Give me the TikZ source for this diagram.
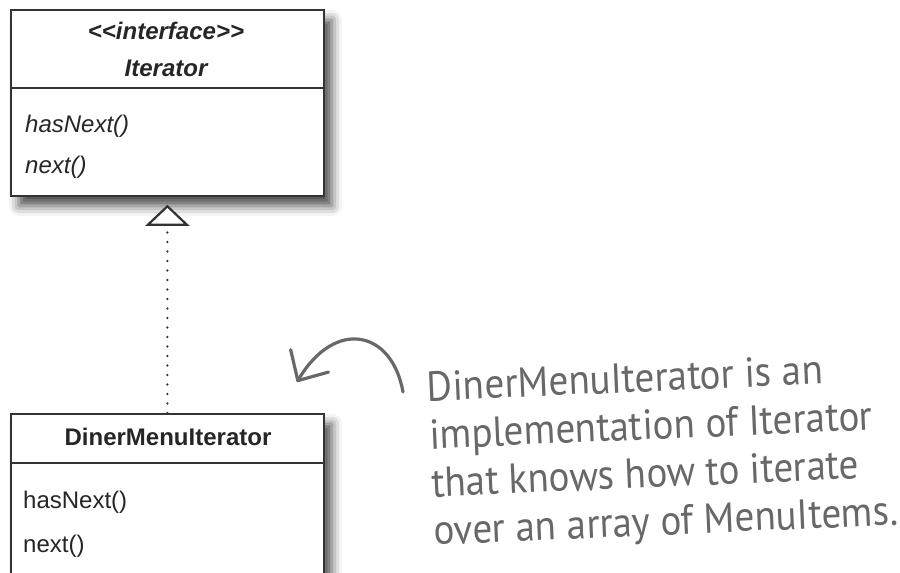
\documentclass[tikz,border=0pt]{standalone}
\usepackage{fontspec}
\setmainfont{Liberation Sans}
\newfontfamily\handfont[FakeStretch=0.93]{PT Sans}
\usetikzlibrary{arrows.meta,shadows.blur}
\definecolor{umlline}{HTML}{333333}
\definecolor{umltext}{HTML}{262626}
\definecolor{penink}{HTML}{686868}
\begin{document}
\begin{tikzpicture}[x=1pt,y=-1pt,
  classbox/.style={draw=umlline, line width=1.8pt, fill=white, inner sep=0pt,
    minimum width=313pt, anchor=north west,
    blur shadow={shadow xshift=8pt, shadow yshift=-10pt,
      shadow blur radius=10pt, shadow opacity=70}},
  divider/.style={draw=umlline, line width=1.5pt},
  umlfont/.style={inner sep=0pt, text=umltext, font=\fontsize{24}{28}\selectfont},
  title/.style={umlfont, anchor=base, font=\fontsize{24}{28}\selectfont\bfseries},
  member/.style={umlfont, anchor=base west},
  realize/.style={draw=umlline, line width=2.6pt, line cap=round,
    dash pattern=on 0pt off 9.5pt, shorten >=8pt,
    -{Triangle[fill=white, length=21pt, width=44pt, line width=2.2pt,
      line cap=butt, line join=miter]}},
  pen/.style={draw=penink, line width=3.2pt, line cap=round, line join=round},
  hand/.style={anchor=base west, inner sep=0pt, text=penink, align=left,
    font=\handfont\fontsize{42}{48}\selectfont}
]
\useasboundingbox (0,0) rectangle (900,573);
\clip (0,0) rectangle (900,573);

% interface box
\node[classbox, minimum height=186pt] (iface) at (10,9) {};
\draw[divider] (10,88) -- (323,88);
\node[title] (stereo) at (166,39) {\itshape <\kern0pt<interface>\kern0pt>};
\node[title] (ifname) at (166,76) {\itshape Iterator};
\node[member] (ihas) at (25,132) {\itshape hasNext()};
\node[member] (inext) at (25,173) {\itshape next()};

% implementing class box
\node[classbox, minimum height=200pt] (impl) at (10,413) {};
\draw[divider] (10,463) -- (323,463);
\node[title] (implname) at (168,445) {DinerMenuIterator};
\node[member] (dhas) at (23,508) {hasNext()};
\node[member] (dnext) at (23,552) {next()};

% realization
\draw[realize] (impl.north) -- (iface.south);

% handwritten note (anchored on the baseline of its last line)
\coordinate (noteStart) at (403,392);
\coordinate (noteTip) at (297,382);
\draw[pen, -{Straight Barb[length=23pt, width=44pt, line cap=round, line join=round]}]
  (noteStart) .. controls (392,330) and (335,318) .. (noteTip);

\node[hand, rotate=2.5] (note) at (434,545)
  {DinerMenuIterator is an\\implementation of Iterator\\that knows how to iterate\\over an array of MenuItems.};
\end{tikzpicture}
\end{document}
